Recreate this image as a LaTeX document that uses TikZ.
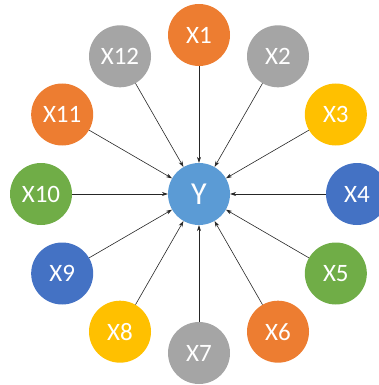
\documentclass[tikz,border=0pt]{standalone}
\usepackage{fontspec}
\setmainfont{Carlito}
\usetikzlibrary{arrows.meta,calc}
\definecolor{corange}{HTML}{ED7D31}
\definecolor{cgrey}{HTML}{A5A5A5}
\definecolor{cgold}{HTML}{FFC000}
\definecolor{cblue}{HTML}{4472C4}
\definecolor{cgreen}{HTML}{70AD47}
\definecolor{clblue}{HTML}{5B9BD5}
\begin{document}
\begin{tikzpicture}[x=1pt,y=-1pt,
  ball/.style={circle,minimum size=62pt,inner sep=0pt,text=white,font=\fontsize{25}{25}\selectfont},
  link/.style={-{Stealth[length=6pt,width=4pt]},line width=0.6pt,draw=black!85}]
\useasboundingbox (0,0) rectangle (378,385);
\node[ball,fill=clblue,font=\fontsize{32}{32}\selectfont] (Y) at (199,194) {Y};
\foreach \i/\c in {1/corange,2/cgrey,3/cgold,4/cblue,5/cgreen,6/corange,7/cgrey,8/cgold,9/cblue,10/cgreen,11/corange,12/cgrey}{
  \node[ball,fill=\c] (X\i) at ($(199,194)+({sin((\i-1)*30)*158},{-cos((\i-1)*30)*159})$) {X\i};
  \draw[link] (X\i) -- (Y);
}
\end{tikzpicture}
\end{document}
